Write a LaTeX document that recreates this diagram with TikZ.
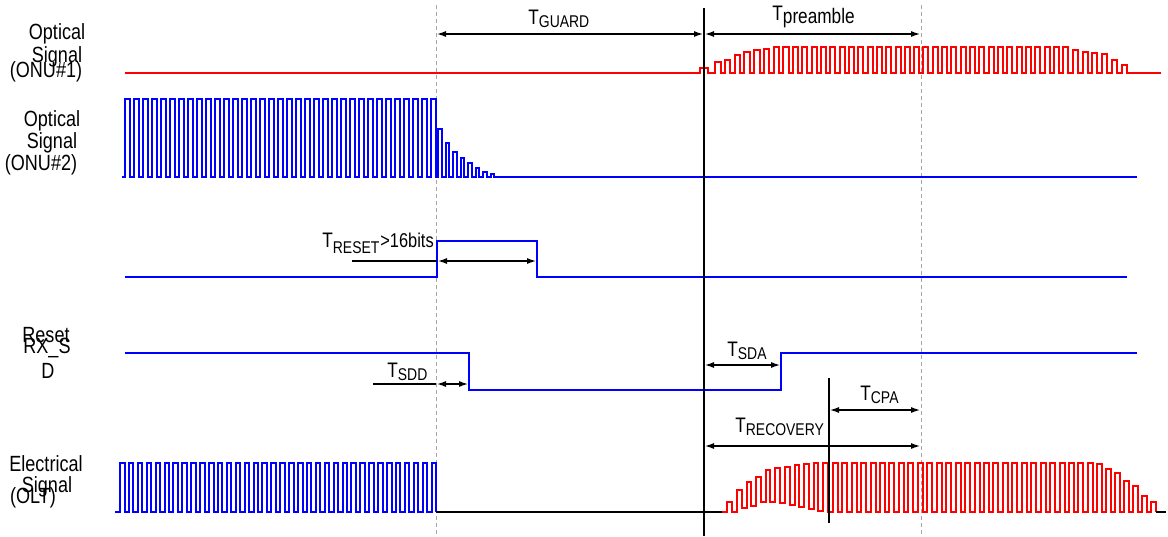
\documentclass[tikz,border=0pt]{standalone}
\usepackage{fontspec}
\setmainfont{Liberation Sans}[FakeStretch=0.82]
\usetikzlibrary{arrows.meta,positioning}

\newcommand{\tlab}[2][1.5pt]{T\raisebox{-#1}{\fontsize{8.5}{9}\selectfont #2}}

\tikzset{
    sigblue/.style={draw=blue, line width=1pt},
    sigred/.style={draw=red, line width=1pt},
    sigblack/.style={draw=black, line width=1pt},
    dimline/.style={{Latex[length=5pt,width=3pt]}-{Latex[length=5pt,width=3pt]}, line width=1pt},
    leader/.style={line width=1pt},
    guide/.style={draw=gray!70, line width=0.5pt, dash pattern=on 2pt off 1.5pt},
    marker/.style={draw=black, line width=1pt},
    rowlabel/.style={inner sep=0pt, anchor=base, font=\fontsize{11}{12}\selectfont},
    dimlabel/.style={inner sep=0pt, anchor=base west, font=\fontsize{10.5}{12}\selectfont},
}

\begin{document}
\begin{tikzpicture}[x=0.5pt,y=-0.5pt]
        \useasboundingbox (0,0) rectangle (1168,536);

        % Row labels
        \node[rowlabel] (onea) at (57,39) {Optical};
        \node[rowlabel] (oneb) at (57,62) {Signal};
        \node[rowlabel] (onec) at (46,77) {(ONU\#1)};
        \node[rowlabel] (twoa) at (52,126) {Optical};
        \node[rowlabel] (twob) at (52,148) {Signal};
        \node[rowlabel] (twoc) at (41,170) {(ONU\#2)};
        \node[rowlabel] (rsta) at (46,342) {Reset};
        \node[rowlabel] (rstb) at (47,353) {RX\_S};
        \node[rowlabel] (rstc) at (48,378) {D};
        \node[rowlabel] (olta) at (46,471) {Electrical};
        \node[rowlabel] (oltb) at (47,492) {Signal};
        \node[rowlabel] (oltc) at (33,503) {(OLT)};

        % Time marks
        \coordinate (guard0) at (436,5);   \coordinate (guard0b) at (436,536);
        \coordinate (pre0) at (921,5);     \coordinate (pre0b) at (921,536);
        \coordinate (burst) at (704,8);    \coordinate (burstb) at (704,536);
        \coordinate (cpa) at (829,378);    \coordinate (cpab) at (829,523);
        \draw[guide] (guard0) -- (guard0b);
        \draw[guide] (pre0) -- (pre0b);

        % Optical signal ONU#1
        \draw[sigred] (125,73) -- (700,73) |- (708,68) |- (715,73)
            \foreach \h [count=\i from 0] in {62.3,59.7,54.7,52.3,50.3,49,47.3,47}
                { -| ({715+9.75*\i},\h) -| ({720.5+9.75*\i},73) }
            \foreach \i in {0,...,29}
                { -| ({793+9.32*\i},47) -| ({798+9.32*\i},73) }
            \foreach \h [count=\i from 0] in {50,51.7,52.7,54.3,60,65}
                { -| ({1073+9.7*\i},\h) -| ({1078+9.7*\i},73) }
            -- (1161,73);

        % Optical signal ONU#2
        \draw[sigblue] (122,177)
            \foreach \i in {0,...,34}
                { -| ({125+9*\i},99) -| ({129.5+9*\i},177) }
            \foreach \h [count=\i from 0] in {129,143,152,158,163,168,172,174}
                { -| ({438+7.5*\i},\h) -| ({441.5+7.5*\i},177) }
            -- (1137,177);

        % Reset and RX_SD
        \draw[sigblue] (125,277) -| (437,241) -| (537,277) -- (1127,277);
        \draw[sigblue] (125,353) -| (469,390) -| (781,353) -- (1137,353);

        % Electrical signal OLT
        \draw[sigblue] (115,512)
            \foreach \i in {0,...,35}
                { -| ({120+8.9*\i},463) -| ({124.5+8.9*\i},512) };
        \draw[sigblack] (436,512) -- (722,512);
        \draw[sigred] (722,512)
            \foreach \t/\l [count=\i from 0] in {501.7/512.3,490/508.3,482.3/506,477.3/501.7,470/501.7,468.3/503.3,466.7/505,465/506.7,464/509,463.3/510.7}
                { -| ({727.3+9.6*\i},\t) -| ({732+9.6*\i},\l) }
            \foreach \i in {0,...,28}
                { -| ({823.3+9.45*\i},463) -| ({828.3+9.45*\i},512) }
            \foreach \t [count=\i from 0] in {464,469.3,472.7,480.7,485.7,495.7,502.3}
                { -| ({1097+9.05*\i},\t) -| ({1101.7+9.05*\i},512) };
        \draw[sigblack] (1155.7,512) -- (1166,512);

        % Markers
        \draw[marker] (burst) -- (burstb);
        \draw[marker] (cpa) -- (cpab);

        % Intervals
        \coordinate (g1) at (436,34);   \coordinate (g2) at (704,34);   \coordinate (g3) at (921,34);
        \draw[dimline] (g1) -- (g2);
        \draw[dimline] (g2) -- (g3);
        \node[dimlabel] (lguard) at (528,24) {\tlab{GUARD}};
        \node[dimlabel] (lpre) at (772,20) {T\raisebox{-1.7pt}{preamble}};

        \coordinate (r0) at (352,261);  \coordinate (r1) at (437,261);  \coordinate (r2) at (537,261);
        \draw[leader] (r0) -- (r1);
        \draw[dimline] (r1) -- (r2);
        \node[dimlabel] (lreset) at (322,247) {\tlab[3pt]{RESET}\hspace{0.5pt}{\fontsize{10}{12}\selectfont >16bits}};

        \coordinate (d0) at (373,384);  \coordinate (d1) at (436,384);  \coordinate (d2) at (469,384);
        \draw[leader] (d0) -- (d1);
        \draw[dimline] (d1) -- (d2);
        \node[dimlabel] (lsdd) at (387,377) {\tlab{SDD}};

        \coordinate (a1) at (704,365);  \coordinate (a2) at (781,365);
        \draw[dimline] (a1) -- (a2);
        \node[dimlabel] (lsda) at (727,356) {\tlab{SDA}};

        \coordinate (c1) at (829,410);  \coordinate (c2) at (921,410);
        \draw[dimline] (c1) -- (c2);
        \node[dimlabel] (lcpa) at (860,400) {\tlab{CPA}};

        \coordinate (v1) at (704,446);  \coordinate (v2) at (921,446);
        \draw[dimline] (v1) -- (v2);
        \node[dimlabel] (lrec) at (735,432) {\tlab{RECOVERY}};

    \end{tikzpicture}
\end{document}
